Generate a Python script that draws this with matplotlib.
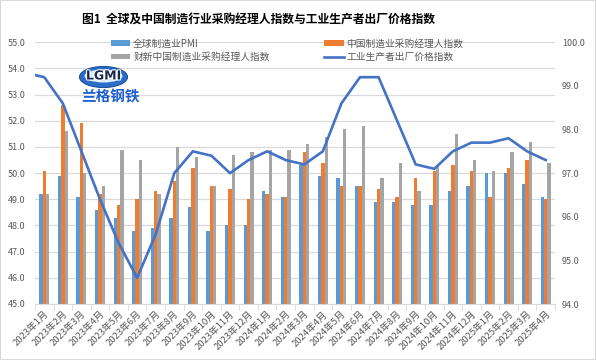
import matplotlib.pyplot as plt
import matplotlib.patheffects as pe
from matplotlib.patches import Ellipse, Rectangle
import numpy as np

plt.rcParams['font.family'] = ['Noto Sans CJK SC', 'DejaVu Sans']

months = ['2023年1月', '2023年2月', '2023年3月', '2023年4月', '2023年5月', '2023年6月',
          '2023年7月', '2023年8月', '2023年9月', '2023年10月', '2023年11月', '2023年12月',
          '2024年1月', '2024年2月', '2024年3月', '2024年4月', '2024年5月', '2024年6月',
          '2024年7月', '2024年8月', '2024年9月', '2024年10月', '2024年11月', '2024年12月',
          '2025年1月', '2025年2月', '2025年3月', '2025年4月']

global_pmi = [49.2, 49.9, 49.1, 48.6, 48.3, 47.8, 47.9, 48.3, 48.7, 47.8, 48.0, 48.0,
              49.3, 49.1, 50.3, 49.9, 49.8, 49.5, 48.9, 48.9, 48.8, 48.8, 49.3, 49.5,
              50.0, 50.0, 49.6, 49.1]
china_pmi = [50.1, 52.6, 51.9, 49.2, 48.8, 49.0, 49.3, 49.7, 50.2, 49.5, 49.4, 49.0,
             49.2, 49.1, 50.8, 50.4, 49.5, 49.5, 49.4, 49.1, 49.8, 50.1, 50.3, 50.1,
             49.1, 50.2, 50.5, 49.0]
caixin_pmi = [49.2, 51.6, 50.0, 49.5, 50.9, 50.5, 49.2, 51.0, 50.6, 49.5, 50.7, 50.8,
              50.9, 50.9, 51.1, 51.4, 51.7, 51.8, 49.8, 50.4, 49.3, 50.3, 51.5, 50.5,
              50.1, 50.8, 51.2, 50.4]
# PPI, starts one month earlier (2022年12月) so the line runs into the left edge
ppi_2022_12 = 99.3
ppi = [99.2, 98.6, 97.5, 96.4, 95.4, 94.6, 95.6, 97.0, 97.5, 97.4, 97.0, 97.3,
       97.5, 97.3, 97.2, 97.5, 98.6, 99.2, 99.2, 98.2, 97.2, 97.1, 97.5, 97.7,
       97.7, 97.8, 97.5, 97.3]

title = '图1  全球及中国制造行业采购经理人指数与工业生产者出厂价格指数'
grey = '#595959'
grid_c = '#D9D9D9'

W, H = 596, 360
fig = plt.figure(figsize=(W / 100, H / 100), dpi=100)
ax = fig.add_axes([35 / W, 1 - 304 / H, 520 / W, (304 - 42.3) / H])

x = np.arange(len(months))
w = 0.18
b1 = ax.bar(x - w, global_pmi, w, color='#5B9BD5', label='全球制造业PMI')
b2 = ax.bar(x, china_pmi, w, color='#ED7D31', label='中国制造业采购经理人指数')
b3 = ax.bar(x + w, caixin_pmi, w, color='#A5A5A5', label='财新中国制造业采购经理人指数')

ax.set_xlim(-0.5, len(months) - 0.5)
ax.set_ylim(45, 55)
ax.set_yticks(np.arange(45, 55.1, 1))
ax.set_yticklabels([f'{v:.1f}' for v in np.arange(45, 55.1, 1)])
ax.yaxis.grid(True, color=grid_c, lw=0.9)
ax.set_axisbelow(True)
for s in ['top', 'left', 'right']:
    ax.spines[s].set_visible(False)
ax.spines['bottom'].set_color(grid_c)
ax.tick_params(axis='y', length=0, pad=7, labelsize=6.5, labelcolor=grey)

ax.set_xticks(x)
ax.set_xticklabels(months, rotation=45, ha='right', rotation_mode='anchor',
                   fontsize=6.8, color=grey)
ax.set_xticks(np.arange(-0.5, len(months), 1), minor=True)
ax.tick_params(axis='x', which='major', length=0, pad=4)
ax.tick_params(axis='x', which='minor', length=4, color=grid_c)

ax2 = ax.twinx()
line, = ax2.plot(np.arange(-1, len(months)), [ppi_2022_12] + ppi, color='#4472C4',
                 lw=1.9, label='工业生产者出厂价格指数')
ax2.set_ylim(94, 100)
ax2.set_yticks(np.arange(94, 100.1, 1))
ax2.set_yticklabels([f'{v:.1f}' for v in np.arange(94, 100.1, 1)])
ax2.tick_params(axis='y', length=0, pad=5, labelsize=6.5, labelcolor=grey)
for s in ax2.spines.values():
    s.set_visible(False)

leg = fig.legend([b1, b3, b2, line], [b1.get_label(), b3.get_label(), b2.get_label(), line.get_label()],
                 ncol=2, loc='upper left', bbox_to_anchor=(106 / W, 1 - 33.5 / H),
                 frameon=False, fontsize=7, borderpad=0, handlelength=2.0,
                 handleheight=0.45, handletextpad=0.3, columnspacing=5.6, labelspacing=0.35)
for t in leg.get_texts():
    t.set_color(grey)

fig.text(82 / W, 1 - 20 / H, title, fontsize=8.5, fontweight='bold', va='center', ha='left')

# logo
fig.patches.append(Ellipse((103.5 / W, 1 - 77 / H), 48 / W, 21 / H, transform=fig.transFigure,
                           facecolor='#2A6EC8', edgecolor='#1B4F9C', lw=0.8))
fig.patches.append(Ellipse((103.5 / W, 1 - 76 / H), 38 / W, 13 / H, transform=fig.transFigure,
                           facecolor='#DCE9F8', edgecolor='none'))
fig.text(103.5 / W, 1 - 76 / H, 'LGMI', fontsize=9, fontweight='bold', color='#1A2A4A',
         ha='center', va='center', family='DejaVu Sans',
         path_effects=[pe.withStroke(linewidth=1.5, foreground='white')])
fig.text(111 / W, 1 - 96 / H, '兰格钢铁', fontsize=10.5, fontweight='bold', color='#1F5FD0',
         ha='center', va='center')

fig.patches.append(Rectangle((0, 0), 1, 1, transform=fig.transFigure, fill=False,
                             edgecolor=grid_c, lw=1.5))

fig.savefig('out.png', dpi=100)
